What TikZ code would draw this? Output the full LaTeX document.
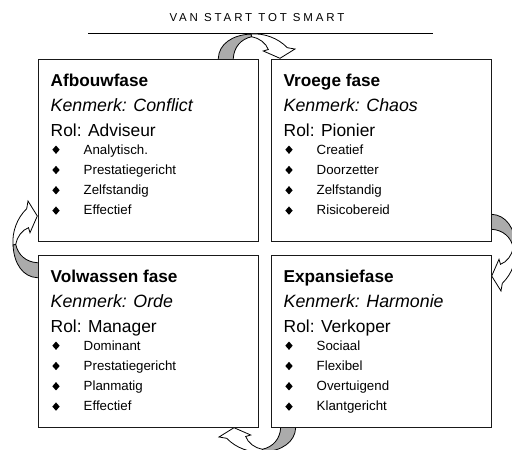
\documentclass[tikz,border=0pt]{standalone}
\usepackage{fontspec}
\setmainfont{Liberation Sans}
\usetikzlibrary{shapes.geometric}

% one phase card: name, left, top, height, heading, trait, role, list of four traits
\newcommand\phasecard[8]{%
  \node[phasebox, minimum height=#4pt] (#1) at (#2,#3) {};
  \node[heading] (#1-head) at ({#2+12.5},{#3+27}) {#5};
  \node[trait]   (#1-trait) at ({#2+12.5},{#3+52.5}) {Kenmerk: #6};
  \node[role]    (#1-role) at ({#2+12.5},{#3+77}) {Rol: #7};
  \foreach \itm [count=\i] in {#8} {
    \node[bulletmark] (#1-b\i) at ({#2+18},{#3+95+20.3*(\i-1)-4.3}) {};
    \node[item] (#1-t\i) at ({#2+45.5},{#3+95+20.3*(\i-1)}) {\itm};
  }%
}

% curved arrow: grey back band, white front band with head; local frame has the
% outward direction up and the foot on the left
\newcommand\curvedarrow[3]{%
  \begin{scope}[shift={(#1,#2)}, rotate=#3]
    \filldraw[arrowback]
      (-45.7pt,-1pt) -- (-45.7pt,0.7pt)
      .. controls (-45pt,15pt) and (-32pt,24pt) .. (-13pt,25pt)
      -- (-12.3pt,22.3pt)
      .. controls (-23pt,20pt) and (-30pt,12pt) .. (-30.7pt,0.7pt)
      -- (-30.7pt,-1pt) -- cycle;
    \filldraw[arrowfront]
      (-13pt,25pt)
      .. controls (0pt,26pt) and (14pt,21pt) .. (23.3pt,11.3pt)
      -- (31pt,10pt) -- (16pt,0.7pt) -- (-0.7pt,8pt) -- (4.3pt,9.5pt)
      .. controls (2pt,16pt) and (-5pt,21pt) .. (-12.3pt,22.3pt)
      -- cycle;
  \end{scope}%
}

\begin{document}
\begin{tikzpicture}[x=1pt,y=-1pt,
  phasebox/.style={draw=black!90, line width=1pt, fill=white, anchor=north west,
    inner sep=0pt, minimum width=220pt},
  heading/.style={anchor=base west, inner sep=0pt,
    font=\bfseries\fontsize{17.2}{20}\selectfont},
  trait/.style={anchor=base west, inner sep=0pt,
    font=\itshape\fontsize{17.8}{20}\selectfont},
  role/.style={anchor=base west, inner sep=0pt,
    font=\fontsize{17.4}{20}\selectfont},
  item/.style={anchor=base west, inner sep=0pt,
    font=\fontsize{13.3}{16}\selectfont},
  bulletmark/.style={diamond, fill=black, inner sep=0pt,
    minimum width=7.5pt, minimum height=8.5pt},
  titletext/.style={inner sep=0pt, anchor=base,
    font=\addfontfeature{LetterSpace=25}\fontsize{11.5}{13}\selectfont},
  arrowback/.style={draw=black, line width=0.8pt, fill=black!33},
  arrowfront/.style={draw=black, line width=0.8pt, fill=white},
]
\useasboundingbox (0,0) rectangle (512,450);
\clip (0,0) rectangle (512,450);

% title and rule
\node[titletext] (title) at (257,21.7) {VAN START TOT SMART};
\coordinate (ruleL) at (88,33);
\coordinate (ruleR) at (433,33);
\draw[line width=1pt] (ruleL) -- (ruleR);

% arrows between the phases
\curvedarrow{264}{59}{0}
\curvedarrow{491}{260}{-90}
\curvedarrow{250}{427}{180}
\curvedarrow{38}{232}{90}

% the four phases
\phasecard{afbouw}{38}{59}{182}{Afbouwfase}{Conflict}{Adviseur}
  {Analytisch.,Prestatiegericht,Zelfstandig,Effectief}
\phasecard{vroeg}{271}{59}{182}{Vroege fase}{Chaos}{Pionier}
  {Creatief,Doorzetter,Zelfstandig,Risicobereid}
\phasecard{volwassen}{38}{255}{172}{Volwassen fase}{Orde}{Manager}
  {Dominant,Prestatiegericht,Planmatig,Effectief}
\phasecard{expansie}{271}{255}{172}{Expansiefase}{Harmonie}{Verkoper}
  {Sociaal,Flexibel,Overtuigend,Klantgericht}
\end{tikzpicture}
\end{document}
